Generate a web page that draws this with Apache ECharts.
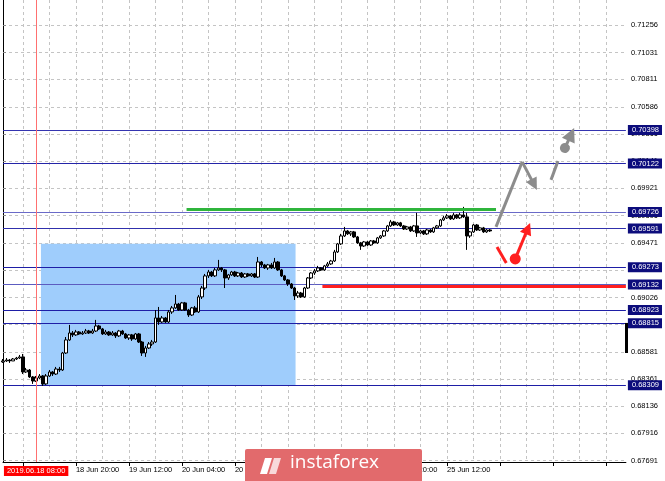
<!DOCTYPE html>
<html><head><meta charset="utf-8">
<script src="https://cdn.jsdelivr.net/npm/echarts@6/dist/echarts.min.js"></script>
<style>html,body{margin:0;padding:0;background:#fff}#c{width:665px;height:481px}</style>
</head><body><div id="c"></div>
<script>
// ---- data ----
const opens = [
0.68499,0.68507,0.68515,0.68507,0.68523,0.68531,0.68540,0.68417,0.68433,0.68376,
0.68343,0.68368,0.68384,0.68319,0.68384,0.68417,0.68400,0.68441,0.68433,0.68572,
0.68679,0.68736,0.68720,0.68744,0.68728,0.68736,0.68752,0.68736,0.68752,0.68793,
0.68769,0.68728,0.68744,0.68720,0.68736,0.68712,0.68752,0.68728,0.68695,0.68720,
0.68687,0.68728,0.68662,0.68572,0.68613,0.68646,0.68662,0.68859,0.68826,0.68859,
0.68826,0.68908,0.68941,0.68973,0.68924,0.68982,0.68924,0.68883,0.68941,0.68908,
0.69031,0.69104,0.69203,0.69235,0.69203,0.69252,0.69268,0.69252,0.69186,0.69211,
0.69235,0.69203,0.69227,0.69194,0.69219,0.69203,0.69219,0.69194,0.69317,0.69293,
0.69268,0.69293,0.69268,0.69317,0.69252,0.69203,0.69170,0.69137,0.69104,0.69039,
0.69063,0.69031,0.69104,0.69186,0.69227,0.69244,0.69268,0.69252,0.69285,0.69301,
0.69325,0.69399,0.69465,0.69530,0.69571,0.69547,0.69563,0.69522,0.69473,0.69448,
0.69481,0.69456,0.69489,0.69473,0.69514,0.69530,0.69571,0.69612,0.69645,0.69620,
0.69637,0.69612,0.69587,0.69604,0.69571,0.69612,0.69555,0.69571,0.69547,0.69579,
0.69563,0.69596,0.69612,0.69661,0.69678,0.69694,0.69669,0.69702,0.69678,0.69702,
0.69686,0.69530,0.69563,0.69620,0.69579,0.69596,0.69563,0.69579];
const closes = [
0.68507,0.68515,0.68507,0.68523,0.68531,0.68540,0.68417,0.68433,0.68376,0.68343,
0.68368,0.68384,0.68319,0.68384,0.68417,0.68400,0.68441,0.68433,0.68572,0.68679,
0.68736,0.68720,0.68744,0.68728,0.68736,0.68752,0.68736,0.68752,0.68793,0.68769,
0.68728,0.68744,0.68720,0.68736,0.68712,0.68752,0.68728,0.68695,0.68720,0.68687,
0.68728,0.68662,0.68572,0.68613,0.68646,0.68662,0.68859,0.68826,0.68859,0.68826,
0.68908,0.68941,0.68973,0.68924,0.68982,0.68924,0.68883,0.68941,0.68908,0.69031,
0.69104,0.69203,0.69235,0.69203,0.69252,0.69268,0.69252,0.69186,0.69211,0.69235,
0.69203,0.69227,0.69194,0.69219,0.69203,0.69219,0.69194,0.69317,0.69293,0.69268,
0.69293,0.69268,0.69317,0.69252,0.69203,0.69170,0.69137,0.69104,0.69039,0.69063,
0.69031,0.69104,0.69186,0.69227,0.69244,0.69268,0.69252,0.69285,0.69301,0.69325,
0.69399,0.69465,0.69530,0.69571,0.69547,0.69563,0.69522,0.69473,0.69448,0.69481,
0.69456,0.69489,0.69473,0.69514,0.69530,0.69571,0.69612,0.69645,0.69620,0.69637,
0.69612,0.69587,0.69604,0.69571,0.69612,0.69555,0.69571,0.69547,0.69579,0.69563,
0.69596,0.69612,0.69661,0.69678,0.69694,0.69669,0.69702,0.69678,0.69702,0.69686,
0.69530,0.69563,0.69620,0.69579,0.69596,0.69563,0.69579,0.69571];
const lows = [
0.68491,0.68499,0.68491,0.68507,0.68515,0.68523,0.68400,0.68409,0.68368,0.68319,
0.68335,0.68360,0.68302,0.68311,0.68376,0.68384,0.68392,0.68417,0.68425,0.68564,
0.68671,0.68703,0.68712,0.68720,0.68720,0.68728,0.68728,0.68728,0.68744,0.68761,
0.68720,0.68720,0.68712,0.68712,0.68695,0.68703,0.68720,0.68687,0.68679,0.68671,
0.68679,0.68654,0.68548,0.68540,0.68605,0.68630,0.68654,0.68802,0.68818,0.68818,
0.68818,0.68892,0.68933,0.68916,0.68916,0.68916,0.68867,0.68875,0.68900,0.68900,
0.69014,0.69088,0.69186,0.69194,0.69194,0.69244,0.69235,0.69104,0.69170,0.69203,
0.69194,0.69194,0.69186,0.69186,0.69194,0.69194,0.69186,0.69186,0.69276,0.69260,
0.69252,0.69260,0.69260,0.69244,0.69194,0.69162,0.69121,0.69096,0.69006,0.69023,
0.69023,0.69023,0.69096,0.69178,0.69211,0.69235,0.69244,0.69244,0.69276,0.69293,
0.69317,0.69391,0.69456,0.69522,0.69538,0.69530,0.69514,0.69465,0.69416,0.69440,
0.69448,0.69448,0.69465,0.69465,0.69506,0.69522,0.69563,0.69604,0.69612,0.69612,
0.69604,0.69579,0.69579,0.69563,0.69563,0.69522,0.69547,0.69538,0.69538,0.69555,
0.69555,0.69587,0.69604,0.69653,0.69669,0.69661,0.69661,0.69669,0.69669,0.69678,
0.69416,0.69514,0.69555,0.69571,0.69571,0.69555,0.69555,0.69563];
const highs = [
0.68523,0.68531,0.68523,0.68531,0.68540,0.68556,0.68564,0.68450,0.68441,0.68384,
0.68384,0.68400,0.68392,0.68400,0.68433,0.68425,0.68458,0.68458,0.68581,0.68703,
0.68802,0.68752,0.68761,0.68752,0.68752,0.68769,0.68761,0.68769,0.68843,0.68802,
0.68777,0.68761,0.68752,0.68752,0.68744,0.68761,0.68761,0.68736,0.68728,0.68728,
0.68736,0.68736,0.68671,0.68630,0.68662,0.68679,0.68924,0.68949,0.68875,0.68867,
0.68924,0.68957,0.69047,0.68982,0.68990,0.68990,0.68933,0.68949,0.68957,0.69047,
0.69121,0.69219,0.69252,0.69244,0.69268,0.69334,0.69276,0.69260,0.69219,0.69244,
0.69244,0.69235,0.69235,0.69227,0.69227,0.69227,0.69227,0.69358,0.69325,0.69301,
0.69301,0.69309,0.69350,0.69325,0.69260,0.69211,0.69178,0.69145,0.69113,0.69080,
0.69072,0.69113,0.69194,0.69235,0.69260,0.69285,0.69276,0.69293,0.69317,0.69334,
0.69416,0.69473,0.69547,0.69604,0.69579,0.69571,0.69571,0.69530,0.69481,0.69489,
0.69489,0.69497,0.69497,0.69522,0.69538,0.69579,0.69620,0.69661,0.69653,0.69645,
0.69645,0.69620,0.69612,0.69612,0.69620,0.69719,0.69579,0.69579,0.69587,0.69587,
0.69604,0.69620,0.69669,0.69694,0.69710,0.69702,0.69719,0.69710,0.69719,0.69768,
0.69719,0.69571,0.69628,0.69628,0.69604,0.69604,0.69587,0.69587];

const firstBarTime = Date.UTC(2019, 5, 17, 22); // first hourly bar
const barCount = 189;                             // bars incl. empty future space
const xTickLabels = ['18 Jun 20:00','19 Jun 12:00','20 Jun 04:00','20 Jun 20:00','21 Jun 12:00','24 Jun 04:00','24 Jun 20:00','25 Jun 12:00'];
const yTickValues = [0.71256,0.71031,0.70811,0.70586,0.70366,0.70141,0.69921,0.69696,0.69471,0.69251,0.69026,0.68806,0.68581,0.68361,0.68136,0.67916,0.67691];
const levelValues = [0.70398,0.70122,0.69726,0.69591,0.69273,0.69132,0.68923,0.68815,0.68309];
const priceMin = 0.67680, priceMax = 0.71461;
const cursorIndex = 10, cursorLabel = '2019.06.18 08:00';
const zoneBox = [11.45, 0.69466, 88.3, 0.68309];
const resistanceLine = [[55.4, 0.69748], [148.8, 0.69748]];
const supportLine = [[96.4, 0.69117], [188, 0.69117]];
const grayUp = [[148.8, 0.69604], [156.7, 0.70136]];
const grayDown = [[156.7, 0.70136], [160.3, 0.69950]];
const grayUp2 = [[165.4, 0.69989], [167.5, 0.70144]];
const grayTarget = [[169.6, 0.70250], [171.5, 0.70362]];
const redDip = [[149.1, 0.69440], [151.9, 0.69309]];
const redUp = [[154.6, 0.69342], [158.4, 0.69591]];
const priceMarker = [[188, 0.68818], [188, 0.68572]];

// ---- build ----
const months = ['Jan','Feb','Mar','Apr','May','Jun','Jul','Aug','Sep','Oct','Nov','Dec'];
const categories = [];
for (let t = firstBarTime; categories.length < barCount; t += 3600000) {
  const d = new Date(t), wd = d.getUTCDay();
  if (wd === 0 || wd === 6) continue;
  categories.push(d.getUTCDate() + ' ' + months[d.getUTCMonth()] + ' ' + String(d.getUTCHours()).padStart(2,'0') + ':00');
}
const candles = opens.map((o, i) => [o, closes[i], lows[i], highs[i]]);
const levelColors = ['#3434b0','#2424a8','#6a6ac8','#3030ac','#1e1ea6','#5c5cc0','#1e1ea6','#1e1ea6','#1e1ea6'];
const FONT = 'Liberation Sans';
const GRAY = '#8c8c8c', RED = '#ff1f1f';

const chart = echarts.init(document.getElementById('c'), null, {renderer: 'canvas'});
chart.setOption({
  animation: false,
  backgroundColor: '#fff',
  grid: {left: 3, right: 38, top: 0, bottom: 19, containLabel: false},
  xAxis: [{
    type: 'category', data: categories, boundaryGap: false, z: 1,
    axisLine: {show: true, lineStyle: {color: '#000', width: 1}},
    axisTick: {show: true, interval: i => (i - 6) % 16 === 0, length: 4, lineStyle: {color: '#000'}},
    axisLabel: {interval: (i, v) => xTickLabels.includes(v), align: 'left', margin: 4, fontSize: 7.5, color: '#000', fontFamily: FONT},
    splitLine: {show: true, interval: i => (i - 6) % 8 === 0, lineStyle: {type: [3, 3], color: '#c4c4c4'}}
  }, {
    type: 'value', min: 0, max: barCount - 1, show: false
  }],
  yAxis: [{
    type: 'value', position: 'right', min: priceMin, max: priceMax,
    axisLine: {show: true, lineStyle: {color: '#000'}},
    axisTick: {show: true, customValues: yTickValues, length: 3, lineStyle: {color: '#888'}},
    axisLabel: {customValues: yTickValues, formatter: v => v.toFixed(5), fontSize: 7.5, color: '#000', margin: 5, fontFamily: FONT},
    splitLine: {show: true, lineStyle: {type: [3, 3], color: '#c4c4c4'}}
  }, {
    type: 'value', position: 'right', min: priceMin, max: priceMax,
    axisLine: {show: false}, axisTick: {show: false}, splitLine: {show: false},
    axisLabel: {customValues: levelValues, formatter: v => v.toFixed(5), fontSize: 7.5, color: '#fff', margin: 2,
      backgroundColor: '#0c0c7c', padding: [1, 3, 1, 4], fontFamily: FONT}
  }],
  series: [{
    type: 'custom', xAxisIndex: 1, yAxisIndex: 0, z: 1, silent: true,
    data: [zoneBox], encode: {x: [0, 2], y: [1, 3]},
    renderItem: (params, api) => {
      const p1 = api.coord([api.value(0), api.value(1)]);
      const p2 = api.coord([api.value(2), api.value(3)]);
      return {type: 'rect', shape: {x: p1[0], y: p1[1], width: p2[0] - p1[0], height: p2[1] - p1[1]}, style: {fill: '#9fcdfc'}};
    }
  }, {
    type: 'lines', coordinateSystem: 'cartesian2d', xAxisIndex: 1, yAxisIndex: 0, z: 2, silent: true,
    symbol: 'none',
    data: levelValues.map((v, k) => ({coords: [[0, v], [barCount - 1, v]], lineStyle: {color: levelColors[k], width: 1, opacity: 1}}))
  }, {
    type: 'candlestick', xAxisIndex: 0, yAxisIndex: 0, z: 3, barWidth: 3, data: candles,
    itemStyle: {color: '#fff', color0: '#000', borderColor: '#000', borderColor0: '#000', borderWidth: 1},
    markLine: {
      symbol: 'none', silent: true, animation: false,
      data: [{xAxis: cursorIndex, lineStyle: {color: '#ff7070', width: 1, type: 'solid'},
          label: {show: true, position: 'start', formatter: cursorLabel, backgroundColor: '#ff0000', color: '#fff',
            padding: [1, 3, 1, 3], distance: 4, fontSize: 7.5, fontFamily: FONT}}]
    }
  }, {
    type: 'lines', coordinateSystem: 'cartesian2d', xAxisIndex: 1, yAxisIndex: 0, z: 5, silent: true, clip: false,
    symbol: 'none',
    data: [
      {coords: resistanceLine, lineStyle: {color: '#2fb53c', width: 3, opacity: 1}},
      {coords: supportLine, lineStyle: {color: RED, width: 3, opacity: 1}},
      {coords: grayUp, lineStyle: {color: GRAY, width: 3, opacity: 1}},
      {coords: grayUp2, lineStyle: {color: GRAY, width: 3, opacity: 1}},
      {coords: redDip, lineStyle: {color: RED, width: 3, opacity: 1}},
      {coords: priceMarker, lineStyle: {color: '#000', width: 3, opacity: 1}}
    ]
  }, {
    type: 'lines', coordinateSystem: 'cartesian2d', xAxisIndex: 1, yAxisIndex: 0, z: 5, silent: true, clip: false,
    symbol: ['none', 'triangle'], symbolSize: 12,
    lineStyle: {color: GRAY, width: 3, opacity: 1},
    data: [{coords: grayDown}]
  }, {
    type: 'lines', coordinateSystem: 'cartesian2d', xAxisIndex: 1, yAxisIndex: 0, z: 5, silent: true, clip: false,
    symbol: ['circle', 'triangle'], symbolSize: [10, 14],
    lineStyle: {color: GRAY, width: 3, opacity: 1},
    data: [{coords: grayTarget}]
  }, {
    type: 'lines', coordinateSystem: 'cartesian2d', xAxisIndex: 1, yAxisIndex: 0, z: 5, silent: true, clip: false,
    symbol: ['circle', 'triangle'], symbolSize: [11, 12],
    lineStyle: {color: RED, width: 3, opacity: 1},
    data: [{coords: redUp}]
  }],
  graphic: [
    {type: 'rect', left: 245, top: 449, z: 100, zlevel: 1, silent: true, shape: {width: 177, height: 34, r: 2}, style: {fill: '#e26a6c'}},
    {type: 'polygon', z: 101, zlevel: 1, silent: true, shape: {points: [[265, 458], [272, 458], [267, 474], [260, 474]]}, style: {fill: '#fff'}},
    {type: 'polygon', z: 101, zlevel: 1, silent: true, shape: {points: [[274, 458], [281, 458], [276, 474], [269, 474]]}, style: {fill: 'rgba(255,255,255,0.75)'}},
    {type: 'text', z: 101, zlevel: 1, silent: true, x: 290, y: 453, style: {text: 'instaforex', fill: '#fff', font: '19px "Open Sans"'}}
  ]
});
</script></body></html>
